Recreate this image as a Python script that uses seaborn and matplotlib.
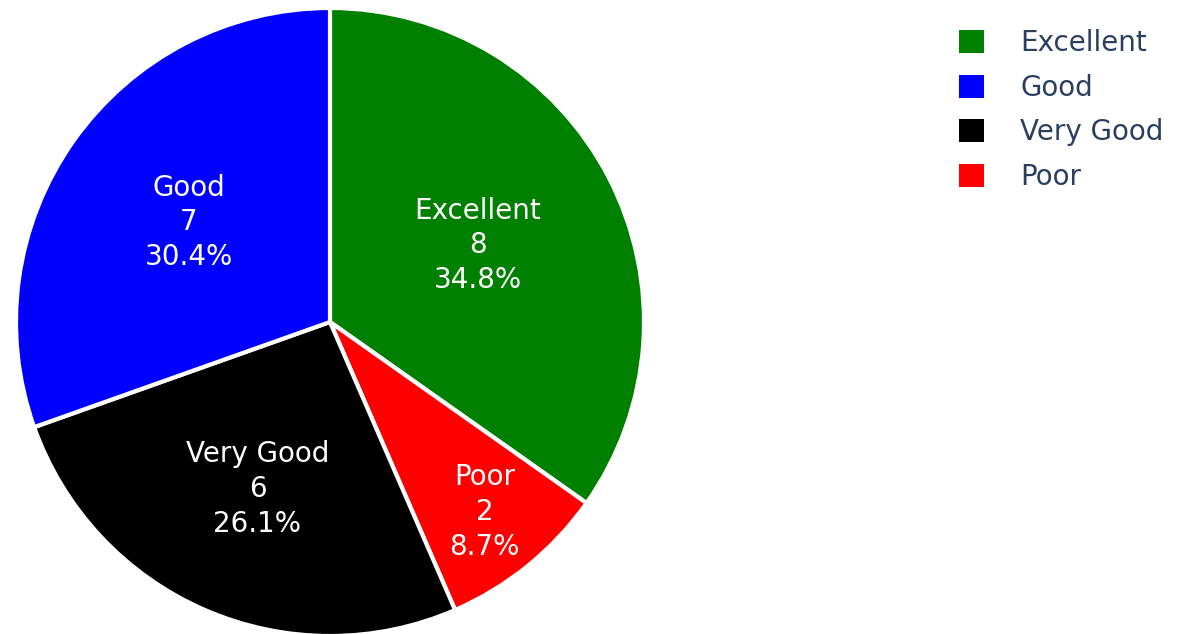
import matplotlib
matplotlib.use("Agg")
import matplotlib.pyplot as plt
import seaborn as sns
import numpy as np
from matplotlib.patches import Patch

categories = ["Excellent", "Poor", "Very Good", "Good"]
counts = [8, 2, 6, 7]
colors = ["#008000", "#ff0000", "#000000", "#0000ff"]
legend_order = ["Excellent", "Good", "Very Good", "Poor"]

sns.set_theme(style="white")
plt.rcParams["font.family"] = ["DejaVu Sans"]

W, H = 1178, 634
fig = plt.figure(figsize=(W / 100, H / 100), dpi=100)
cx, cy, R = 330, 322, 314
ax = fig.add_axes([(cx - R) / W, (H - cy - R) / H, 2 * R / W, 2 * R / H])
wedges, _ = ax.pie(counts, colors=colors, startangle=90, counterclock=False,
                   radius=1, wedgeprops=dict(edgecolor="white", linewidth=3))
ax.set_xlim(-1, 1)
ax.set_ylim(-1, 1)
ax.set_aspect("equal")
ax.axis("off")

total = sum(counts)
rfrac = [0.53, 0.78, 0.58, 0.55]
for w, lab, c, rf in zip(wedges, categories, counts, rfrac):
    mid = np.deg2rad((w.theta1 + w.theta2) / 2)
    x, y = rf * np.cos(mid), rf * np.sin(mid)
    ax.text(x, y, f"{lab}\n{c}\n{100 * c / total:.1f}%", ha="center", va="center",
            color="white", fontsize=20, linespacing=1.3)

handles = [Patch(facecolor=colors[categories.index(l)], edgecolor="none", label=l)
           for l in legend_order]
fig.legend(handles=handles, loc="upper left", bbox_to_anchor=(934 / W, 1 - 4 / H),
           frameon=False, fontsize=20, handlelength=0.9, handleheight=0.9,
           handletextpad=1.3, labelspacing=0.6, labelcolor="#2a3f5f")

fig.savefig("out.png", dpi=100)
